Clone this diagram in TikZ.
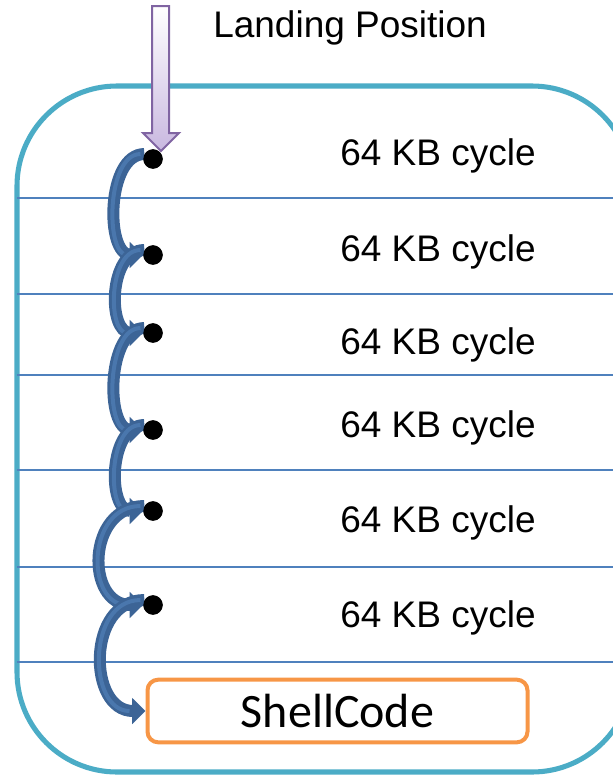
\documentclass[tikz,border=0pt]{standalone}
\usepackage{fontspec}
\setmainfont{Liberation Sans}
\newfontfamily\calfont{Carlito}
\usetikzlibrary{arrows.meta}
\definecolor{outerc}{HTML}{4BACC6}
\definecolor{linec}{HTML}{4F81BD}
\definecolor{arrc}{HTML}{3C6496}
\definecolor{arrin}{HTML}{4A77AD}
\definecolor{orangec}{HTML}{F79646}
\definecolor{purpc}{HTML}{8064A2}
\definecolor{lavc}{HTML}{C9B8E0}
\tikzset{
  sep/.style={linec, line width=1.6pt},
  dot/.style={circle, fill=black, inner sep=0pt, minimum size=14.5pt},
  cyc/.style={anchor=base west, inner sep=0pt, font=\fontsize{27.75}{30}\selectfont},
  hop/.style={arrc, line width=9pt, -{Triangle[length=10pt,width=19pt]}},
  hopin/.style={arrin, line width=3pt, shorten >=12pt, shorten <=3pt},
}
\begin{document}
\begin{tikzpicture}[x=0.75pt,y=-0.75pt]
\useasboundingbox (0,0) rectangle (613,775);
\clip (0,0) rectangle (613,775);
% outer rounded box
\draw[outerc, line width=3.8pt, rounded corners=75pt] (17,86) rectangle (632,772);
% separators
\foreach \yy in {198,294,375,470,567,662}
  \draw[sep] (17,\yy) -- (613,\yy);
% labels
\node[cyc] (t0) at (213,37) {Landing Position};
\node[cyc] (t1) at (340,165) {64 KB cycle};
\node[cyc] (t2) at (340,261) {64 KB cycle};
\node[cyc] (t3) at (340,354) {64 KB cycle};
\node[cyc] (t4) at (340,437) {64 KB cycle};
\node[cyc] (t5) at (340,532) {64 KB cycle};
\node[cyc] (t6) at (340,627) {64 KB cycle};
% shellcode box
\node[draw=orangec, line width=3pt, rounded corners=8pt, minimum width=285pt, minimum height=47pt, inner sep=0pt, font=\calfont\fontsize{36}{40}\selectfont] (shell) at (337.5,711) {ShellCode};
% dots
\node[dot] (d1) at (153,159) {};
\node[dot] (d2) at (153,255) {};
\node[dot] (d3) at (153,333) {};
\node[dot] (d4) at (153,430) {};
\node[dot] (d5) at (153,511) {};
\node[dot] (d6) at (153,605) {};
% hops
\foreach \a/\b/\k in {d1/d2/38,d2/d3/36,d3/d4/38,d4/d5/36,d5/d6/58} {
  \draw[hop] (\a.150) .. controls +(-\k,0) and +(-\k,0) .. (\b.west);
  \draw[hopin] (\a.150) .. controls +(-\k,0) and +(-\k,0) .. (\b.west);
}
\draw[hop] (d6.150) .. controls +(-58,0) and +(-58,0) .. (shell.west);
\draw[hopin] (d6.150) .. controls +(-58,0) and +(-58,0) .. (shell.west);
\foreach \n in {1,...,6} \node[dot] at (d\n) {};
% landing arrow
\draw[purpc, line width=1.5pt, top color=white, bottom color=lavc]
  (152,6) -- (169,6) -- (169,133) -- (179,133) -- (161,151) -- (143,133) -- (152,133) -- cycle;
\end{tikzpicture}
\end{document}
